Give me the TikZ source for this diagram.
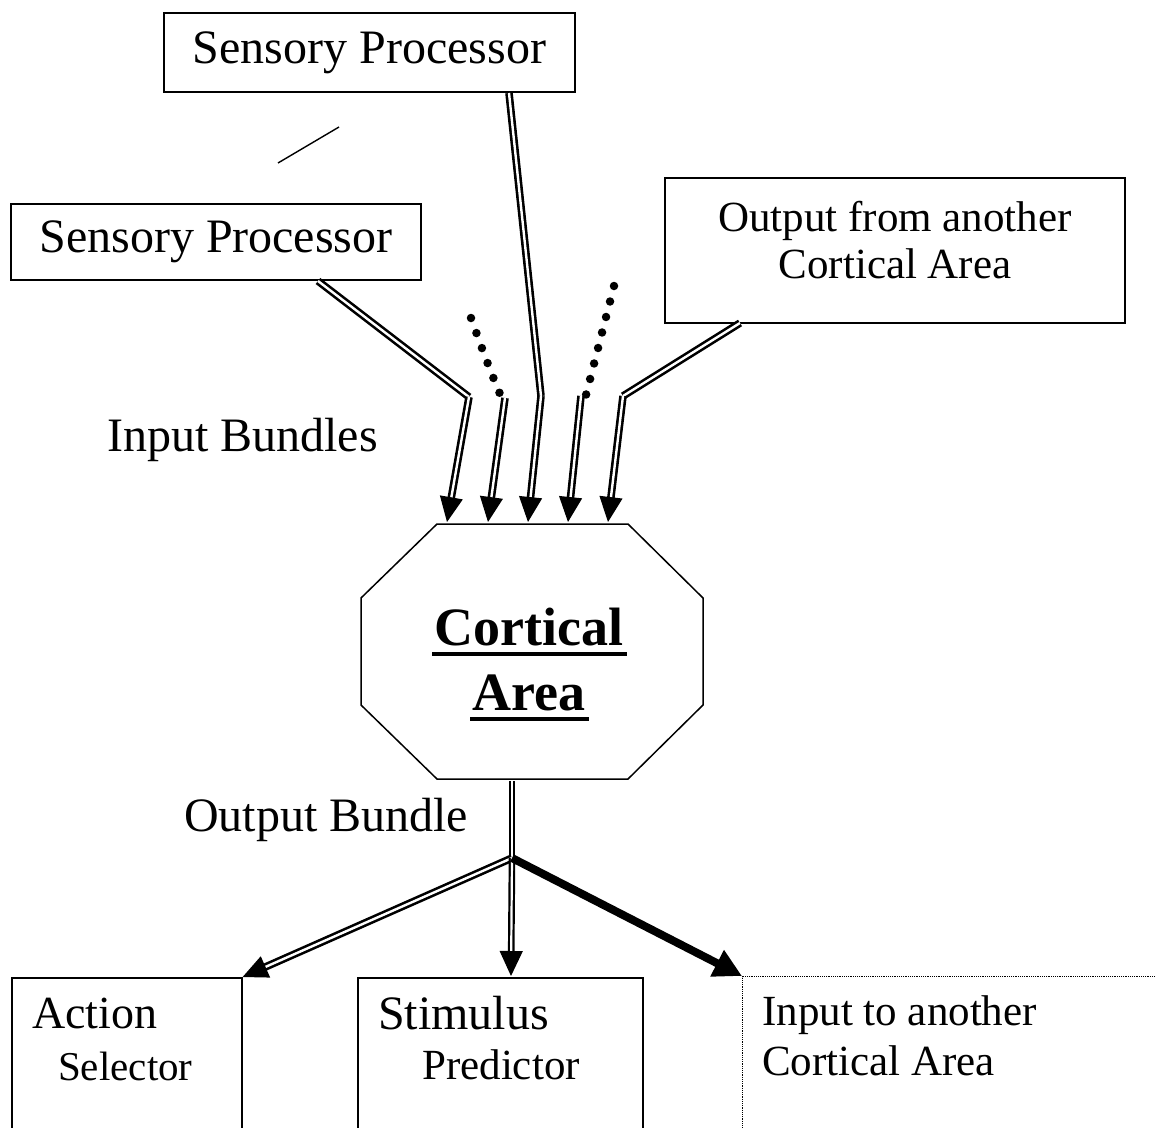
\documentclass[tikz,border=0pt]{standalone}
\usepackage{fontspec}
\setmainfont{Liberation Serif}
\usetikzlibrary{arrows.meta,calc}
\begin{document}
\begin{tikzpicture}[x=1pt,y=-1pt,
  box/.style={draw,line width=1.6,inner sep=0},
  txt/.style={inner sep=0,anchor=base west},
  fbig/.style={font=\fontsize{48}{56}\selectfont},
  fmid/.style={font=\fontsize{43}{50}\selectfont},
  fbold/.style={font=\fontsize{54}{62}\selectfont\bfseries},
  dbl/.style={draw,line width=2.6,double=white,double distance=2.4},
  tipA/.style={-{Triangle[length=25pt,width=23pt]},line width=1.2},
  dots/.style={line width=8.5,line cap=round,dash pattern=on 0pt off 16pt},
]
\useasboundingbox (0,0) rectangle (1156,1127);
\clip (0,0) rectangle (1156,1127);

% ---- source boxes
\node[box,fbig,minimum width=411,minimum height=79] (sp1) at (369.5,52.5) {Sensory Processor};
\node[box,fbig,minimum width=410,minimum height=76] (sp2) at (216,242) {Sensory Processor};
\node[box,minimum width=460,minimum height=145] (oa) at (895,250.5) {};
\node[txt,fmid,anchor=base] (oa1) at (895,231) {Output from another};
\node[txt,fmid,anchor=base] (oa2) at (895,278) {Cortical Area};

% short stray line
\coordinate (s1) at (278,163);
\coordinate (s2) at (339,127);
\draw[line width=1.4] (s1) -- (s2);

% ---- labels
\node[txt,fbig] (inl) at (107,451) {Input Bundles};
\node[txt,fbig] (outl) at (184,831) {Output Bundle};

% ---- cortical area octagon
\draw[line width=1.5] (437,524) -- (628,524) -- (703,598) -- (703,705) -- (628,779)
  -- (437,779) -- (361,705) -- (361,598) -- cycle;
\node[txt,fbold,anchor=base] (ca1) at (529,645) {Cortical};
\node[txt,fbold,anchor=base] (ca2) at (529,710) {Area};
\draw[line width=4] ([xshift=-2pt,yshift=-9pt]ca1.base west) -- ([xshift=3pt,yshift=-9pt]ca1.base east);
\draw[line width=4] ([xshift=-2pt,yshift=-9pt]ca2.base west) -- ([xshift=3pt,yshift=-9pt]ca2.base east);

% ---- input bundles
\coordinate (f1) at (318,281);
\coordinate (f3) at (509,93);
\coordinate (f5) at (740,323);
\coordinate (k1) at (469,397);
\coordinate (k2) at (505,398);
\coordinate (k3) at (541,396);
\coordinate (k4) at (581,396);
\coordinate (k5) at (623,396);
\coordinate (t1) at (447,522);
\coordinate (t2) at (488,522);
\coordinate (t3) at (528,522);
\coordinate (t4) at (568,522);
\coordinate (t5) at (608,522);
\coordinate (dA) at (471,318);
\coordinate (dA2) at (500,394);
\coordinate (dB) at (614,286);
\coordinate (dB2) at (586,395);

\draw[dbl] (f1) -- (k1);
\draw[dbl] (f3) -- (k3);
\draw[dbl] (f5) -- (k5);
\draw[dots] (dA) .. controls (480,343) and (489,368) .. (dA2);
\draw[dots] (dB) -- (dB2);

\foreach \i in {1,...,5}{
  \draw[dbl,shorten >=22pt] (k\i) -- (t\i);
  \draw[tipA] ($(t\i)!23pt!(k\i)$) -- (t\i);
}

% ---- destination boxes
\node[box,anchor=north west,minimum width=230,minimum height=220] (act) at (11,977) {};
\node[box,anchor=north west,minimum width=285,minimum height=220] (stim) at (357,977) {};
\node[draw,densely dotted,line width=1.2,inner sep=0,anchor=north west,minimum width=500,minimum height=220] (inb) at (742,976) {};
\node[txt,font=\fontsize{46}{54}\selectfont] (a1) at (32,1028) {Action};
\node[txt,font=\fontsize{41}{48}\selectfont] (a2) at (58,1080) {Selector};
\node[txt,fbig] (b1) at (378,1029) {Stimulus};
\node[txt,fmid] (b2) at (422,1079) {Predictor};
\node[txt,fmid] (c1) at (762,1025) {Input to another};
\node[txt,fmid] (c2) at (762,1075) {Cortical Area};

% ---- output bundle
\coordinate (ob) at (512,781);
\coordinate (J) at (512,858);
\coordinate (ms) at (511,976);
\draw[dbl,line width=2.2,double distance=2.2] (ob) -- (J);
\draw[dbl,shorten >=22pt] (J) -- (act.north east);
\draw[tipA] ($(act.north east)!23pt!(J)$) -- (act.north east);
\draw[dbl,line width=2.2,double distance=2.2,shorten >=22pt] (J) -- (ms);
\draw[tipA] ($(ms)!23pt!(J)$) -- (ms);
\draw[line width=8,-{Triangle[length=28pt,width=28pt]}] (J) -- (inb.north west);
\end{tikzpicture}
\end{document}
